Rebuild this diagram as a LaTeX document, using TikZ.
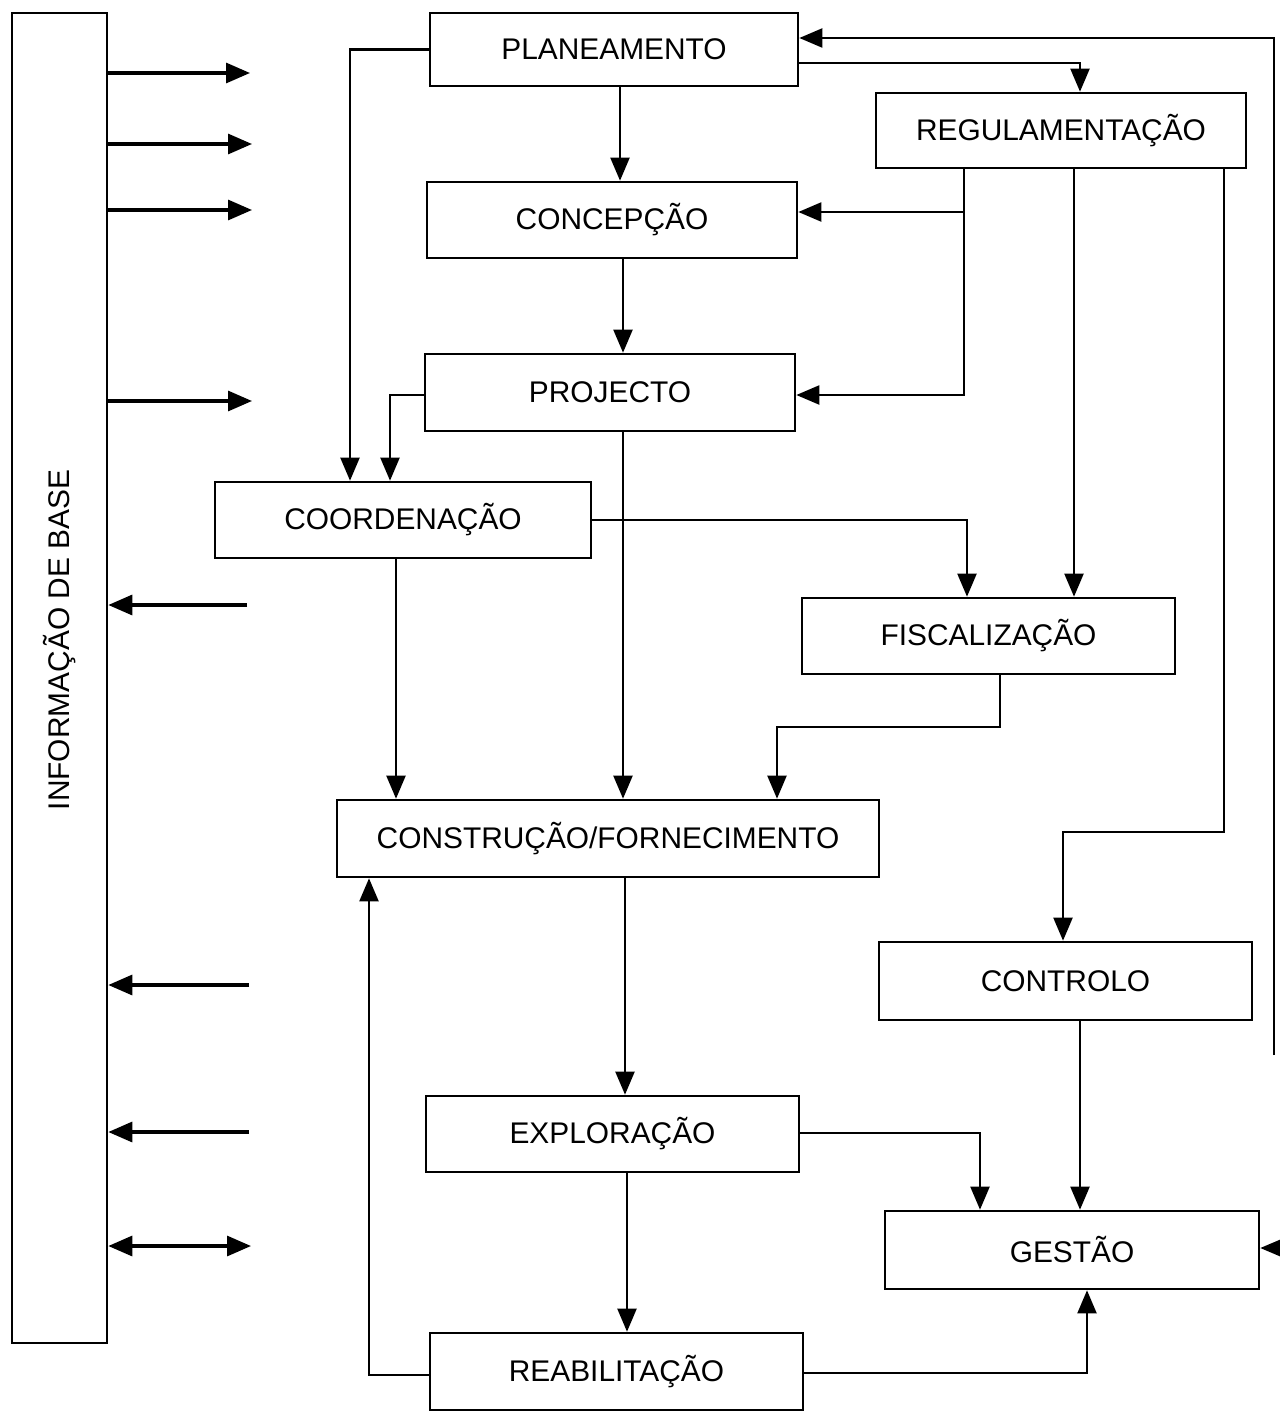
\documentclass[tikz,border=0pt]{standalone}
\usepackage{fontspec}
\setmainfont{Liberation Sans}
\usetikzlibrary{arrows.meta}
\begin{document}
\begin{tikzpicture}[x=0.2mm,y=-0.2mm,
  box/.style={draw, line width=1.5pt, inner sep=0pt, font=\fontsize{17}{20}\selectfont},
  conn/.style={line width=1.2pt, -{Triangle[length=4.6mm,width=3.8mm]}},
  side/.style={line width=1.8pt, -{Triangle[length=4.8mm,width=4mm]}},
  sideboth/.style={line width=1.8pt, {Triangle[length=4.8mm,width=4mm]}-{Triangle[length=4.8mm,width=4mm]}},
  lbl/.style={font=\fontsize{17}{20}\selectfont}]
\useasboundingbox (0,0) rectangle (1279,1412);

% boxes
\node[box, minimum width=19mm, minimum height=266mm] (info) at (59.5,678) {};
\node[lbl, rotate=90] (infolbl) at (60,640) {INFORMAÇÃO DE BASE};
\node[box, minimum width=73.6mm, minimum height=14.6mm] (plan) at (614,49.5) {PLANEAMENTO};
\node[box, minimum width=74mm, minimum height=15mm] (regul) at (1061,130.5) {REGULAMENTAÇÃO};
\node[box, minimum width=74mm, minimum height=15.2mm] (conc) at (612,220) {CONCEPÇÃO};
\node[box, minimum width=74mm, minimum height=15.4mm] (proj) at (610,392.5) {PROJECTO};
\node[box, minimum width=75.2mm, minimum height=15.2mm] (coord) at (403,520) {COORDENAÇÃO};
\node[box, minimum width=74.6mm, minimum height=15.2mm] (fisc) at (988.5,636) {FISCALIZAÇÃO};
\node[box, minimum width=108.4mm, minimum height=15.4mm] (const) at (608,838.5) {CONSTRUÇÃO/FORNECIMENTO};
\node[box, minimum width=74.6mm, minimum height=15.6mm] (contr) at (1065.5,981) {CONTROLO};
\node[box, minimum width=74.6mm, minimum height=15.2mm] (explo) at (612.5,1134) {EXPLORAÇÃO};
\node[box, minimum width=74.8mm, minimum height=15.6mm] (gest) at (1072,1250) {GESTÃO};
\node[box, minimum width=74.6mm, minimum height=15.4mm] (reab) at (616.5,1371.5) {REABILITAÇÃO};

% main connectors
\draw[conn] (620,0 |- plan.south) -- (620,0 |- conc.north);
\draw[conn] (623,0 |- conc.south) -- (623,0 |- proj.north);
\draw[conn] (623,0 |- proj.south) -- (623,0 |- const.north);
\draw[conn] (plan.west) -| (350,0 |- coord.north);
\draw[conn] (proj.west |- 0,395) -| (390,0 |- coord.north);
\draw[conn] (plan.east |- 0,63) -| (1080,0 |- regul.north);
\draw[conn] (964,0 |- regul.south) |- (proj.east |- 0,395);
\coordinate (br) at (964,212);
\draw[conn] (br) -- (conc.east |- br);
\draw[conn] (1074,0 |- regul.south) -- (1074,0 |- fisc.north);
\draw[conn] (1224,0 |- regul.south) |- (1063,832) -- (1063,0 |- contr.north);
\draw[conn] (coord.east |- 0,520) -| (967,0 |- fisc.north);
\draw[conn] (396,0 |- coord.south) -- (396,0 |- const.north);
\draw[conn] (1000,0 |- fisc.south) |- (777,727) -- (777,0 |- const.north);
\draw[conn] (625,0 |- const.south) -- (625,0 |- explo.north);
\draw[conn] (627,0 |- explo.south) -- (627,0 |- reab.north);
\draw[conn] (explo.east |- 0,1133) -| (980,0 |- gest.north);
\draw[conn] (1080,0 |- contr.south) -- (1080,0 |- gest.north);
\draw[conn] (reab.east |- 0,1373) -| (1087,0 |- gest.south);
\draw[conn] (reab.west |- 0,1375) -| (369,0 |- const.south);
\coordinate (rtop) at (1274,1055);
\draw[conn] (rtop) |- (plan.east |- 0,38);
\coordinate (gin) at (1283,1248);
\draw[conn] (gin) -- (gest.east |- gin);

% side arrows
\coordinate (s1) at (250,73);
\coordinate (s2) at (252,144);
\coordinate (s3) at (252,210);
\coordinate (s4) at (252,401);
\coordinate (s5) at (247,605);
\coordinate (s6) at (249,985);
\coordinate (s7) at (249,1132);
\coordinate (s8) at (251,1246);
\draw[side] (info.east |- s1) -- (s1);
\draw[side] (info.east |- s2) -- (s2);
\draw[side] (info.east |- s3) -- (s3);
\draw[side] (info.east |- s4) -- (s4);
\draw[side] (s5) -- (info.east |- s5);
\draw[side] (s6) -- (info.east |- s6);
\draw[side] (s7) -- (info.east |- s7);
\draw[sideboth] (info.east |- s8) -- (s8);
\end{tikzpicture}
\end{document}
